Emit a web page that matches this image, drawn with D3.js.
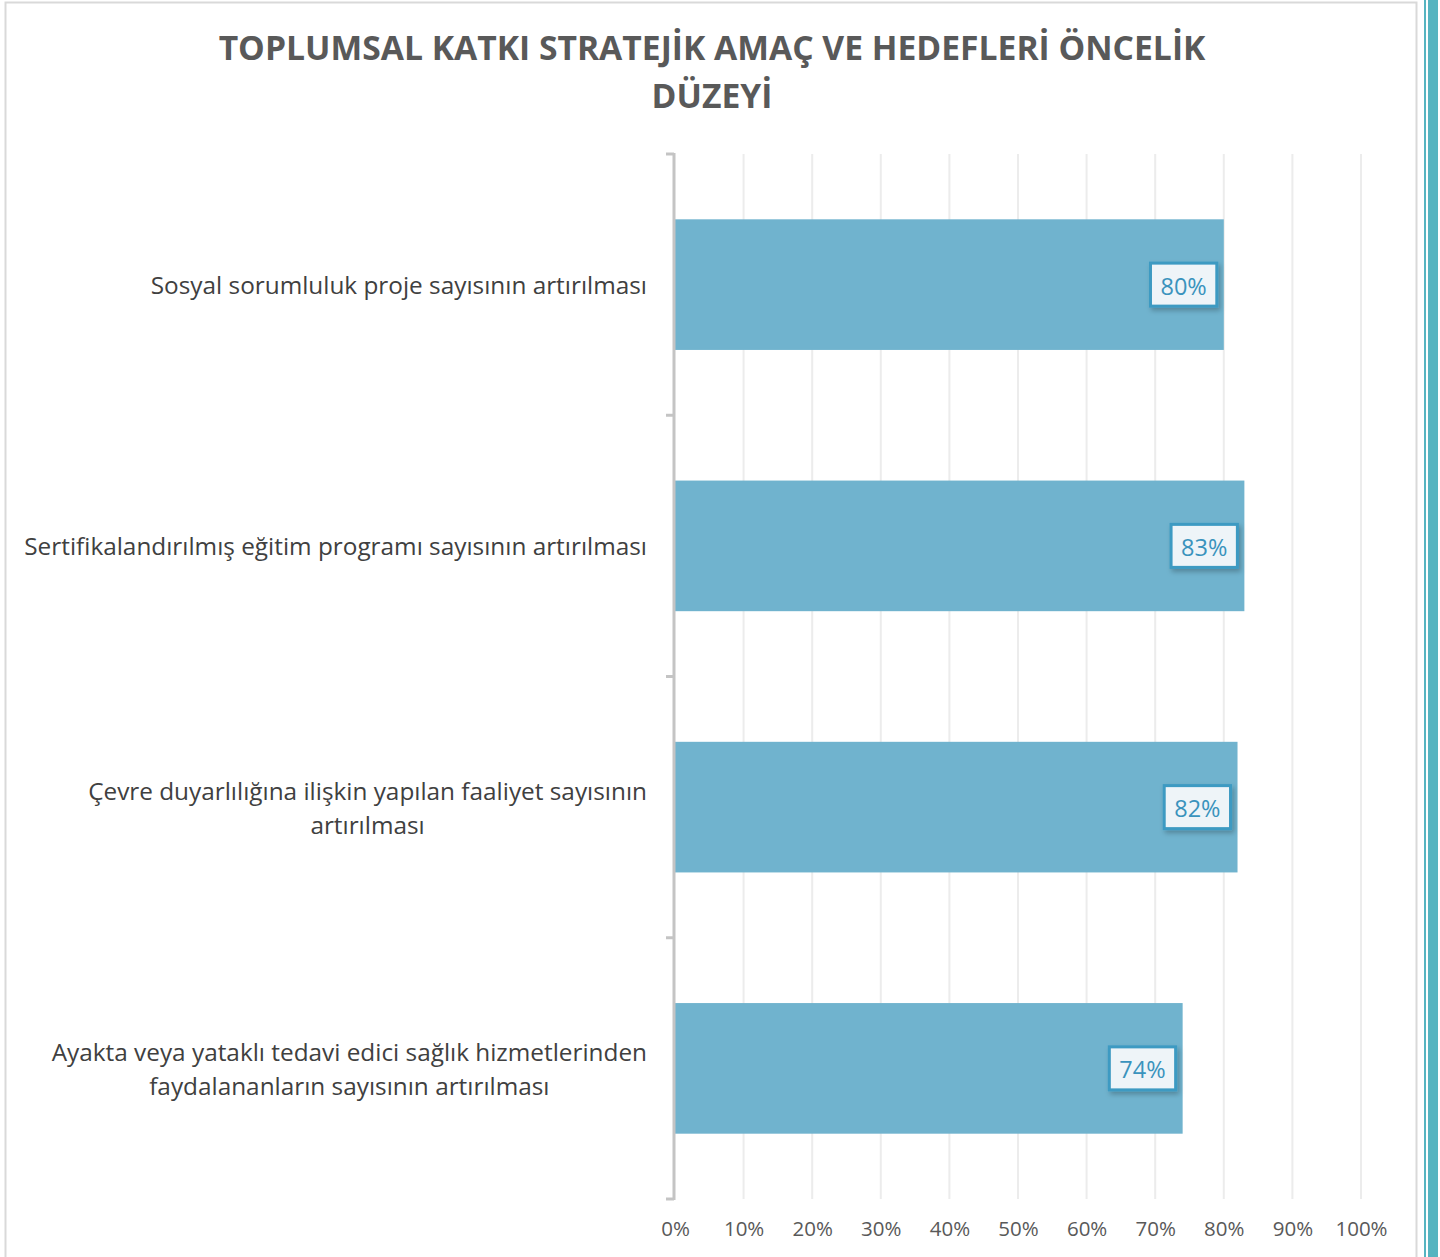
<!DOCTYPE html>
<html>
<head>
<meta charset="utf-8">
<script src="https://cdn.jsdelivr.net/npm/d3@7"></script>
<style>
  html, body { margin: 0; padding: 0; background: #ffffff; }
  svg { display: block; }
</style>
</head>
<body>
<script>
// ---- Data ----
const titleLines = ["TOPLUMSAL KATKI STRATEJİK AMAÇ VE HEDEFLERİ ÖNCELİK", "DÜZEYİ"];
const categories = [
  ["Sosyal sorumluluk proje sayısının artırılması"],
  ["Sertifikalandırılmış eğitim programı sayısının artırılması"],
  ["Çevre duyarlılığına ilişkin yapılan faaliyet sayısının", "artırılması"],
  ["Ayakta veya yataklı tedavi edici sağlık hizmetlerinden", "faydalananların sayısının artırılması"]
];
const values = [0.80, 0.83, 0.82, 0.74];
const tickValues = [0, 0.1, 0.2, 0.3, 0.4, 0.5, 0.6, 0.7, 0.8, 0.9, 1.0];

// ---- Layout ----
const W = 1440, H = 1257;
const plot = { left: 675, right: 1361, top: 154, bottom: 1199 };
const FONT = "'Open Sans', 'Noto Sans', sans-serif";

const svg = d3.select("body").append("svg").attr("width", W).attr("height", H);

const defs = svg.append("defs");
const f = defs.append("filter").attr("id", "shadow").attr("x", "-30%").attr("y", "-30%").attr("width", "170%").attr("height", "170%");
f.append("feDropShadow").attr("dx", 2).attr("dy", 3).attr("stdDeviation", 2.5).attr("flood-color", "#000").attr("flood-opacity", 0.25);

// outer frame
svg.append("rect").attr("x", 5.5).attr("y", 2.5).attr("width", 1411).attr("height", 1265)
  .attr("fill", "#fff").attr("stroke", "#d9d9d9").attr("stroke-width", 2);
// right decorative teal bars
svg.append("rect").attr("x", 1424).attr("y", 0).attr("width", 2).attr("height", H).attr("fill", "#56b4c0");
svg.append("rect").attr("x", 1428).attr("y", 0).attr("width", 10).attr("height", H).attr("fill", "#56b4c0");

const x = d3.scaleLinear().domain([0, 1]).range([plot.left, plot.right]);
const y = d3.scaleBand().domain(d3.range(categories.length)).range([plot.top, plot.bottom]).paddingInner(0.5).paddingOuter(0.25);
const yOuter = d3.scaleBand().domain(d3.range(categories.length)).range([plot.top, plot.bottom]);

// helper: fit font size so width matches target
function fitSize(textStr, weight, target, base) {
  const t = svg.append("text").attr("font-family", FONT).attr("font-weight", weight).attr("font-size", base).text(textStr);
  const w = t.node().getComputedTextLength();
  t.remove();
  return base * target / w;
}

// title
const titleSize = fitSize(titleLines[0], 700, 987, 32);
svg.append("g").selectAll("text").data(titleLines).join("text")
  .attr("x", 712).attr("y", (d, i) => 60 + i * 48)
  .attr("text-anchor", "middle")
  .attr("font-family", FONT).attr("font-weight", 700).attr("font-size", titleSize)
  .attr("fill", "#595959").text(d => d);

// gridlines
svg.append("g").selectAll("line").data(tickValues.slice(1)).join("line")
  .attr("x1", d => x(d)).attr("x2", d => x(d))
  .attr("y1", plot.top).attr("y2", plot.bottom)
  .attr("stroke", "#ececec").attr("stroke-width", 2);

// bars
svg.append("g").selectAll("rect").data(values).join("rect")
  .attr("x", x(0)).attr("y", (d, i) => y(i))
  .attr("width", d => x(d) - x(0)).attr("height", y.bandwidth())
  .attr("fill", "#70b3ce");

// y axis
svg.append("line").attr("x1", plot.left - 1).attr("x2", plot.left - 1).attr("y1", plot.top - 1).attr("y2", plot.bottom + 1)
  .attr("stroke", "#c4c4c4").attr("stroke-width", 3);
const yTicks = d3.range(categories.length + 1).map(i => plot.top + i * yOuter.step());
svg.append("g").selectAll("line").data(yTicks).join("line")
  .attr("x1", plot.left - 9).attr("x2", plot.left - 1)
  .attr("y1", d => d).attr("y2", d => d)
  .attr("stroke", "#c4c4c4").attr("stroke-width", 3);

// x axis tick labels
const xAxis = d3.axisBottom(x).tickValues(tickValues).tickFormat(d3.format(".0%")).tickSize(0).tickPadding(0);
const xg = svg.append("g").attr("transform", `translate(0, ${plot.bottom + 22})`).call(xAxis);
xg.select(".domain").remove();
xg.selectAll("text").attr("font-family", FONT).attr("font-size", 20.5).attr("fill", "#595959");

// category labels
const longest = "Sertifikalandırılmış eğitim programı sayısının artırılması";
const catSize = fitSize(longest, 400, 623, 22);
const labRight = 647;
const lineH = 34;
categories.forEach((lines, i) => {
  const cy = y(i) + y.bandwidth() / 2;
  const g = svg.append("g");
  const texts = g.selectAll("text").data(lines).join("text")
    .attr("font-family", FONT).attr("font-size", catSize).attr("fill", "#404040")
    .attr("dominant-baseline", "central")
    .text(d => d);
  const widths = texts.nodes().map(n => n.getComputedTextLength());
  const maxW = d3.max(widths);
  const cx = labRight - maxW / 2;
  texts.attr("x", cx).attr("text-anchor", "middle")
    .attr("y", (d, j) => cy + (j - (lines.length - 1) / 2) * lineH);
});

// data labels
const dl = svg.append("g");
values.forEach((v, i) => {
  const cy = y(i) + y.bandwidth() / 2;
  const g = dl.append("g");
  const t = g.append("text").attr("font-family", FONT).attr("font-size", 23.5).attr("fill", "#3a93bd")
    .attr("text-anchor", "middle").attr("dominant-baseline", "central").text(d3.format(".0%")(v));
  const tw = t.node().getComputedTextLength();
  const bw = tw + 20, bh = 43;
  const right = x(v) - 7;
  g.insert("rect", "text").attr("x", right - bw).attr("y", cy - bh / 2).attr("width", bw).attr("height", bh)
    .attr("fill", "#eef4f8").attr("stroke", "#3d9ac2").attr("stroke-width", 3).attr("filter", "url(#shadow)");
  t.attr("x", right - bw / 2).attr("y", cy + 1);
});
</script>
</body>
</html>
